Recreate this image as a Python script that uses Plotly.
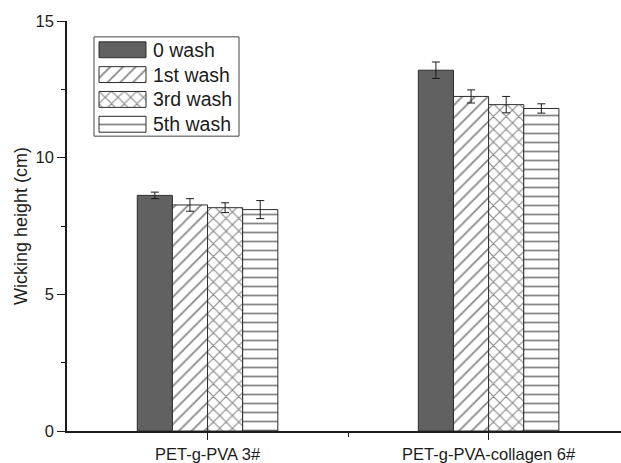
import plotly.graph_objects as go

# Wicking height of grafted PET fabrics after repeated washing
samples = ["PET-g-PVA 3#", "PET-g-PVA-collagen 6#"]
series_names = ["0 wash", "1st wash", "3rd wash", "5th wash"]
wash_0 = [8.62, 13.20]
wash_1 = [8.27, 12.24]
wash_3 = [8.17, 11.94]
wash_5 = [8.10, 11.80]
err_0 = [0.12, 0.30]
err_1 = [0.23, 0.24]
err_3 = [0.18, 0.30]
err_5 = [0.33, 0.17]
y_ticks = [0, 5, 10, 15]

values = [wash_0, wash_1, wash_3, wash_5]
errors = [err_0, err_1, err_3, err_5]
patterns = ["", "/", "x", "-"]
fills = ["#616161", "white", "white", "white"]

W, H = 621, 463
M_L, M_R, M_T, M_B = 67, 0, 21, 29

x_pos = list(range(len(samples)))
font_family = "Liberation Sans, Arial, sans-serif"
ink = "#1c1c1c"
edge = "#2e2e2e"


def pattern_for(shape):
    if not shape:
        return None
    solidity = 0.24 if shape == "x" else 0.2
    return dict(shape=shape, fgcolor="#111111", bgcolor="white", size=9,
                solidity=solidity, fillmode="overlay")


fig = go.Figure()
for name, vals, errs, pat, fc in zip(series_names, values, errors, patterns, fills):
    fig.add_trace(go.Bar(
        x=x_pos, y=vals, name=name, showlegend=False,
        marker=dict(color=fc, line=dict(color=edge, width=1), pattern=pattern_for(pat)),
        error_y=dict(type="data", array=errs, color=ink, thickness=1, width=4),
    ))

# Boxed legend drawn on a pixel-scaled overlay axis pair
box_x0, box_x1, box_y0, box_y1 = 94, 239, 37, 137
row_h = 25
sw_x0, sw_x1, sw_h = 99, 146, 16
text_x = 151
shapes = [dict(type="rect", xref="x2", yref="y2", x0=box_x0, x1=box_x1,
               y0=box_y0, y1=box_y1, line=dict(color="#444444", width=1),
               fillcolor="white", layer="below")]
annotations = []
for i, (name, pat, fc) in enumerate(zip(series_names, patterns, fills)):
    cy = box_y0 + 13 + i * row_h
    y0, y1 = cy - sw_h / 2, cy + sw_h / 2
    fig.add_trace(go.Scatter(
        x=[sw_x0, sw_x1, sw_x1, sw_x0, sw_x0], y=[y0, y0, y1, y1, y0],
        xaxis="x2", yaxis="y2", mode="lines", fill="toself", fillcolor=fc,
        fillpattern=pattern_for(pat), line=dict(color=edge, width=1),
        showlegend=False, hoverinfo="skip",
    ))
    annotations.append(dict(xref="x2", yref="y2", x=text_x, y=cy, text=name,
                            xanchor="left", yanchor="middle", showarrow=False,
                            font=dict(size=19.5, family=font_family, color=ink)))

fig.update_layout(
    width=W, height=H,
    margin=dict(l=M_L, r=M_R, t=M_T, b=M_B),
    paper_bgcolor="white", plot_bgcolor="white",
    barmode="group", bargap=0.5, bargroupgap=0,
    font=dict(family=font_family, color=ink),
    showlegend=False,
    shapes=shapes, annotations=annotations,
    xaxis=dict(
        range=[-0.5, 1.471], tickmode="array", tickvals=x_pos, ticktext=samples,
        showline=True, linecolor=ink, linewidth=1.5,
        ticks="outside", ticklen=7, tickwidth=1.2, tickcolor=ink,
        tickfont=dict(size=16.5), showgrid=False, zeroline=False,
        minor=dict(tickmode="array", tickvals=[0.5], ticks="outside", ticklen=4,
                   tickcolor=ink, showgrid=False),
    ),
    yaxis=dict(
        range=[0, 15], tickmode="array", tickvals=y_ticks,
        showline=True, linecolor=ink, linewidth=1.5,
        ticks="outside", ticklen=8, tickwidth=1.2, tickcolor=ink,
        tickfont=dict(size=16.5), showgrid=False, zeroline=False,
        minor=dict(tickmode="array", tickvals=[2.5, 7.5, 12.5], ticks="outside",
                   ticklen=4, tickcolor=ink, showgrid=False),
        title=dict(text="Wicking height (cm)", font=dict(size=18), standoff=3),
    ),
    xaxis2=dict(overlaying="x", range=[M_L, W - M_R], visible=False, fixedrange=True),
    yaxis2=dict(overlaying="y", anchor="x2", range=[H - M_B, M_T], visible=False,
                fixedrange=True),
)

fig.write_html("out.html")
